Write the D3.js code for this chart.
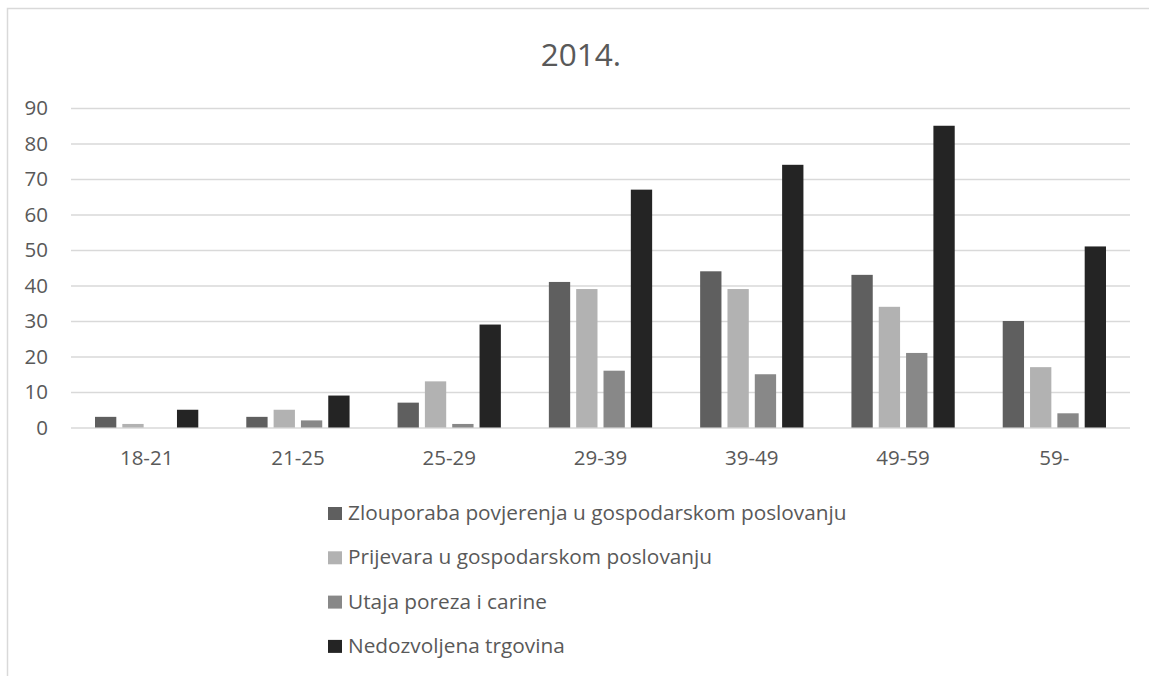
<!DOCTYPE html>
<html>
<head>
<meta charset="utf-8">
<script src="https://cdn.jsdelivr.net/npm/d3@7"></script>
<style>
  body { margin: 0; background: #fff; }
  text { font-family: "Open Sans", sans-serif; fill: #595959; }
</style>
</head>
<body>
<svg id="viz"></svg>
<script>
const width = 1149;
const height = 676;

// data
const groups = ["18-21", "21-25", "25-29", "29-39", "39-49", "49-59", "59-"];
const seriesNames = [
    "Zlouporaba povjerenja u gospodarskom poslovanju",
    "Prijevara u gospodarskom poslovanju",
    "Utaja poreza i carine",
    "Nedozvoljena trgovina"
];
const zlouporaba = [3, 3, 7, 41, 44, 43, 30];
const prijevara = [1, 5, 13, 39, 39, 34, 17];
const utaja = [0, 2, 1, 16, 15, 21, 4];
const trgovina = [5, 9, 29, 67, 74, 85, 51];
const yTicks = [0, 10, 20, 30, 40, 50, 60, 70, 80, 90];
const colors = ["#5f5f5f", "#b2b2b2", "#888888", "#242424"];

const values = [zlouporaba, prijevara, utaja, trgovina];
const rows = groups.map(function (g, i) {
    return { group: g, vals: values.map(function (v, k) { return { k: k, v: v[i] }; }) };
});

const plot = { left: 71, right: 1130, top: 108, bottom: 427.5 };

const svg = d3.select("#viz").attr("width", width).attr("height", height);

// chart frame, runs off the right and bottom edges
svg.append("rect")
    .attr("x", 7.5).attr("y", 8.5)
    .attr("width", 1160).attr("height", 700)
    .attr("fill", "none")
    .attr("stroke", "#d9d9d9")
    .attr("stroke-width", 1.5);

svg.append("text")
    .attr("x", 581).attr("y", 66)
    .attr("text-anchor", "middle")
    .style("font-size", "31.5px")
    .text("2014.");

const x0 = d3.scaleBand().domain(groups).range([plot.left, plot.right]);
const x1 = d3.scaleBand().domain(d3.range(4))
    .range([24, x0.bandwidth() - 24]).paddingInner(0.22);
const y = d3.scaleLinear().domain([0, 90]).range([plot.bottom, plot.top]);

// y axis + gridlines
const yAxis = svg.append("g")
    .attr("transform", "translate(" + plot.left + ",0)")
    .call(d3.axisLeft(y).tickValues(yTicks).tickSize(-(plot.right - plot.left)).tickPadding(23));
yAxis.select(".domain").remove();
yAxis.selectAll("line").attr("stroke", "#d9d9d9").attr("stroke-width", 1.3);
yAxis.selectAll("text").style("font-size", "20.5px").attr("fill", "#595959");

// bars
svg.append("g").selectAll("g")
    .data(rows)
    .enter()
    .append("g")
    .attr("transform", function (d) { return "translate(" + x0(d.group) + ",0)"; })
    .selectAll("rect")
    .data(function (d) { return d.vals; })
    .enter()
    .append("rect")
    .attr("x", function (d) { return x1(d.k); })
    .attr("y", function (d) { return y(d.v); })
    .attr("width", x1.bandwidth())
    .attr("height", function (d) { return y(0) - y(d.v); })
    .attr("fill", function (d) { return colors[d.k]; });

// x axis labels
const xAxis = svg.append("g")
    .attr("transform", "translate(0," + plot.bottom + ")")
    .call(d3.axisBottom(x0).tickSize(0).tickPadding(23));
xAxis.select(".domain").remove();
xAxis.selectAll("text").style("font-size", "20.5px").attr("fill", "#595959");

// legend
const legend = svg.append("g").attr("transform", "translate(328,0)")
    .selectAll("g")
    .data(seriesNames)
    .enter()
    .append("g")
    .attr("transform", function (d, i) { return "translate(0," + (520 + i * 44.3) + ")"; });
legend.append("rect")
    .attr("x", 0).attr("y", -13)
    .attr("width", 14).attr("height", 13)
    .attr("fill", function (d, i) { return colors[i]; });
legend.append("text")
    .attr("x", 20).attr("y", 0)
    .style("font-size", "20.8px")
    .text(function (d) { return d; });
</script>
</body>
</html>
